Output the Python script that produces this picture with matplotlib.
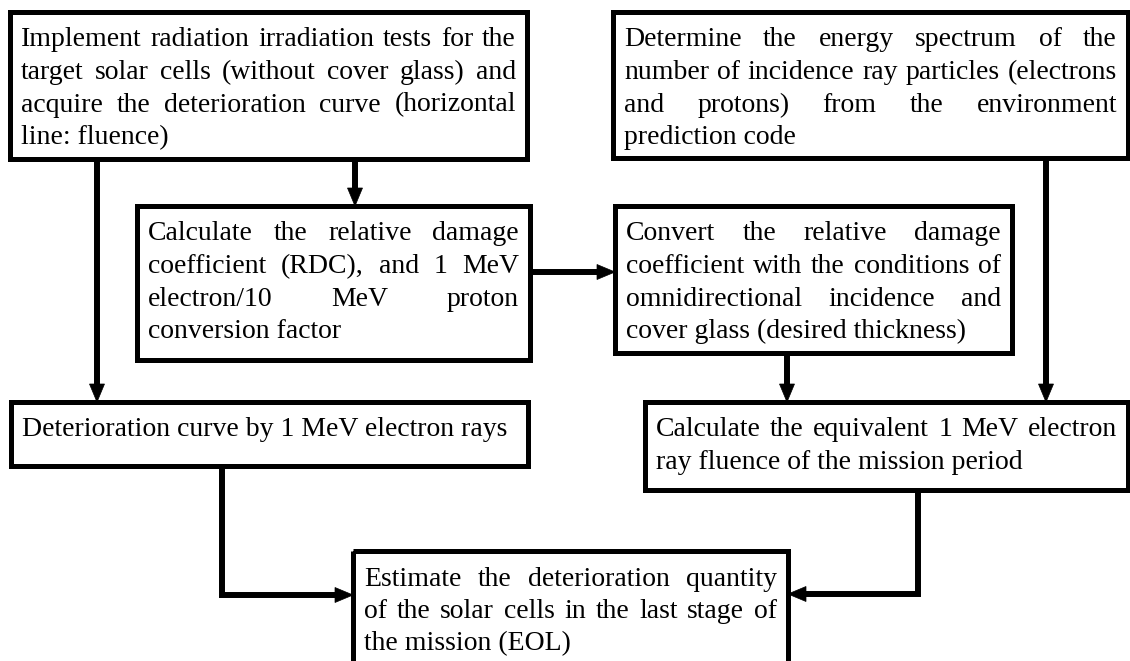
import matplotlib
matplotlib.use("Agg")
import matplotlib.pyplot as plt
from matplotlib.patches import Rectangle, Polygon
import numpy as np

# ---- text content ----
box1_lines = ["Implement radiation irradiation tests for the",
              "target solar cells (without cover glass) and",
              "acquire the deterioration curve (horizontal",
              "line: fluence)"]
box2_lines = ["Determine the energy spectrum of the",
              "number of incidence ray particles (electrons",
              "and protons) from the environment",
              "prediction code"]
box3_lines = ["Calculate the relative damage",
              "coefficient (RDC), and 1 MeV",
              "electron/10 MeV proton",
              "conversion factor"]
box4_lines = ["Convert the relative damage",
              "coefficient with the conditions of",
              "omnidirectional incidence and",
              "cover glass (desired thickness)"]
box5_lines = ["Deterioration curve by 1 MeV electron rays"]
box6_lines = ["Calculate the equivalent 1 MeV electron",
              "ray fluence of the mission period"]
box7_lines = ["Estimate the deterioration quantity",
              "of the solar cells in the last stage of",
              "the mission (EOL)"]

W, H = 1130, 661
FONT = "Liberation Serif"
FS = 20
LINE_SP = 32.5
PAD = 11
BOX_LW = 3.6
ARR_LW = 4.3

fig = plt.figure(figsize=(W / 100, H / 100), dpi=100)
ax = fig.add_axes([0, 0, 1, 1])
ax.set_xlim(0, W)
ax.set_ylim(H, 0)
ax.axis("off")
renderer = fig.canvas.get_renderer()


def word_width(word):
    t = ax.text(0, 0, word, fontsize=FS, family=FONT)
    w = t.get_window_extent(renderer).width
    t.remove()
    return w


def box(x0, y0, x1, y1, lines):
    ax.add_patch(Rectangle((x0, y0), x1 - x0, y1 - y0, fill=False,
                           edgecolor="black", linewidth=BOX_LW,
                           joinstyle="miter"))
    tx0, tx1 = x0 + PAD, x1 - PAD
    base = y0 + 34.5
    for i, line in enumerate(lines):
        yb = base + i * LINE_SP
        words = line.split()
        last = (i == len(lines) - 1)
        if last or len(words) == 1:
            ax.text(tx0, yb, line, fontsize=FS, family=FONT,
                    ha="left", va="baseline")
            continue
        widths = [word_width(w) for w in words]
        gap = (tx1 - tx0 - sum(widths)) / (len(words) - 1)
        x = tx0
        for w, wd in zip(words, widths):
            ax.text(x, yb, w, fontsize=FS, family=FONT,
                    ha="left", va="baseline")
            x += wd + gap


def arrow(pts, head_len=18, head_w=15):
    pts = np.array(pts, dtype=float)
    end = pts[-1]
    d = end - pts[-2]
    d = d / np.hypot(*d)
    base = end - d * head_len
    perp = np.array([-d[1], d[0]])
    shaft = np.vstack([pts[:-1], base + d * 2])
    ax.plot(shaft[:, 0], shaft[:, 1], color="black", linewidth=ARR_LW,
            solid_joinstyle="miter", solid_capstyle="butt")
    tri = [end, base + perp * head_w / 2, base - perp * head_w / 2]
    ax.add_patch(Polygon(tri, closed=True, facecolor="black",
                         edgecolor="black", linewidth=0.5))


# boxes
box(10, 12, 527, 159, box1_lines)
box(613, 12, 1128, 158, box2_lines)
box(137, 206, 530, 360, box3_lines)
box(615, 206, 1012, 353, box4_lines)
box(11, 402, 528, 466, box5_lines)
box(645, 402, 1128, 490, box6_lines)
box(353, 551, 788, 700, box7_lines)

# arrows
arrow([(97, 159), (97, 402)])
arrow([(355, 159), (355, 206)])
arrow([(530, 272), (615, 272)])
arrow([(787, 353), (787, 402)])
arrow([(1046, 158), (1046, 402)])
arrow([(222, 466), (222, 595), (353, 595)])
arrow([(918, 490), (918, 594), (788, 594)])

fig.savefig("out.png", dpi=100, facecolor="white")
